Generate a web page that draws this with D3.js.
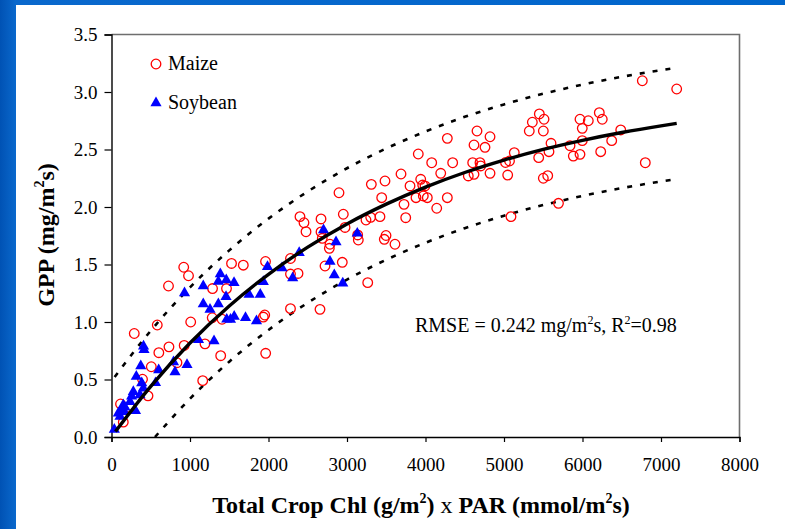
<!DOCTYPE html>
<html>
<head>
<meta charset="utf-8">
<script src="https://cdn.jsdelivr.net/npm/d3@7"></script>
<style>
  html, body { margin: 0; padding: 0; background: #0066cc; }
  svg { display: block; }
  text { font-family: "Liberation Serif", "Times New Roman", serif; fill: #000; }
</style>
</head>
<body>
<svg id="chart" width="785" height="529"></svg>
<script>
// Maize observations: crop Chl x PAR vs GPP
const maizeX = [6762,7200,6214,5968,6074,6252,5997,6487,5599,5841,5997,6372,5573,5883,5968,6232,6800,5557,5694,
  2898,2953,2975,3242,3302,3420,3310,3484,3442,3688,3803,3726,3748,3908,3939,3964,3994,3879,3972,4023,4079,4194,4278,4346,
  4143,4278,4545,4618,4601,4694,4703,4618,4656,4758,4822,4822,5019,5070,5047,5131,5089,5322,5361,5450,5510,5501,5442,5501,
  2669,2401,2452,2478,2669,2685,3136,3144,2783,2775,3497,3475,3611,2940,2720,2376,3264,2656,
  2280,2280,1962,1529,1679,920,981,726,1287,1465,1283,1408,1952,1934,2280,1009,583,290,603,732,926,1191,1391,1964,834,507,
  395,1162,465,115,231,150];
const maizeY = [3.098,3.026,2.820,2.763,2.750,2.763,2.684,2.670,2.554,2.533,2.577,2.577,2.481,2.443,2.458,2.481,2.385,2.272,2.032,
  2.124,1.937,1.822,1.887,1.910,1.916,2.197,2.226,2.081,2.287,2.183,2.023,1.907,2.461,2.241,2.191,2.183,2.081,2.096,2.081,2.385,2.293,2.597,2.385,
  1.989,2.081,2.270,2.284,2.385,2.385,2.357,2.539,2.661,2.519,2.611,2.293,2.387,2.400,2.278,2.472,1.916,2.661,2.737,2.809,2.763,2.661,2.429,2.250,
  1.896,1.916,1.863,1.785,1.783,1.728,1.757,1.713,1.676,1.641,1.752,1.719,1.676,1.519,1.487,1.422,1.342,1.110,
  1.552,1.417,1.526,1.509,1.494,1.476,1.402,1.313,1.291,1.291,1.037,1.024,1.061,1.043,1.116,1.000,0.974,0.900,0.733,0.784,0.796,0.810,0.707,0.728,0.646,0.611,
  0.502,0.490,0.358,0.287,0.258,0.129];

// Soybean observations
const soyX = [2701,2860,3131,2391,2783,2838,2946,2172,1987,2308,1934,1386,1361,1462,1561,1169,930,1459,1752,1895,1169,1255,1361,
  1468,1516,1563,1707,1847,1108,1306,408,414,373,601,790,809,962,316,385,561,405,278,257,363,236,150,172,121,163,306,87,108,36];
const soyY = [1.800,1.696,1.771,1.603,1.526,1.409,1.337,1.470,1.481,1.383,1.350,1.417,1.352,1.365,1.342,1.313,1.252,1.220,1.239,1.239,1.157,1.109,1.157,
  1.023,1.022,1.048,1.037,1.009,0.846,0.835,0.789,0.759,0.617,0.583,0.652,0.565,0.629,0.526,0.470,0.471,0.423,0.394,0.354,0.365,0.307,0.278,0.258,0.235,0.220,0.228,0.206,0.177,0.065];

// Fitted curve and its +/- 2 RMSE envelope
const fitX   = [50,500,1000,1500,2000,2500,3000,3500,4000,4500,5000,5500,6000,6500,7000,7200];
const fitY   = [0.047,0.440,0.817,1.139,1.415,1.651,1.853,2.025,2.173,2.300,2.408,2.501,2.580,2.648,2.706,2.727];
const upperX = [40,500,1000,1500,2000,2500,3000,3500,4000,4500,5000,5500,6000,6500,7000,7170];
const upperY = [0.522,0.924,1.301,1.623,1.899,2.135,2.337,2.509,2.657,2.784,2.892,2.985,3.064,3.132,3.190,3.208];
const lowerX = [554,1000,1500,2000,2500,3000,3500,4000,4500,5000,5500,6000,6500,7000,7170];
const lowerY = [0.000,0.333,0.655,0.931,1.167,1.369,1.541,1.689,1.816,1.924,2.017,2.096,2.164,2.222,2.240];

const xTicks = [0,1000,2000,3000,4000,5000,6000,7000,8000];
const yTicks = [0,0.5,1.0,1.5,2.0,2.5,3.0,3.5];
const seriesNames = ["Maize", "Soybean"];

const svg = d3.select("#chart");

// slide background
const defs = svg.append("defs");
const grad = defs.append("linearGradient").attr("id", "slideBlue")
  .attr("x1", "0").attr("y1", "0").attr("x2", "1").attr("y2", "0");
grad.append("stop").attr("offset", "0").attr("stop-color", "#0052b4");
grad.append("stop").attr("offset", "0.02").attr("stop-color", "#0a68cc");
grad.append("stop").attr("offset", "1").attr("stop-color", "#0066cc");
svg.append("rect").attr("width", 785).attr("height", 529).attr("fill", "url(#slideBlue)");
svg.append("rect").attr("x", 16).attr("y", 5).attr("width", 769).attr("height", 524).attr("fill", "#fff");

const x = d3.scaleLinear().domain([0, 8000]).range([111.5, 739.5]);
const y = d3.scaleLinear().domain([0, 3.5]).range([437, 34.5]);

// plot frame (top and right)
svg.append("path")
  .attr("d", `M${x(0)},${y(3.5)}H${x(8000)}V${y(0)}`)
  .attr("fill", "none").attr("stroke", "#6e6e6e").attr("stroke-width", 1.6);

// axes
const yAxis = svg.append("g").attr("transform", `translate(${x(0)},0)`)
  .call(d3.axisLeft(y).tickValues(yTicks).tickFormat(d3.format(".1f")).tickSize(7).tickPadding(7));
const xAxis = svg.append("g").attr("transform", `translate(0,${y(0)})`)
  .call(d3.axisBottom(x).tickValues(xTicks).tickFormat(d3.format("d")).tickSize(5).tickPadding(16));
[yAxis, xAxis].forEach(g => {
  g.selectAll("path").attr("stroke", "#000").attr("stroke-width", 1.4);
  g.selectAll("line").attr("stroke", "#000").attr("stroke-width", 1.2);
  g.selectAll("text").style("font-family", "Liberation Serif, serif").style("font-size", "19px").attr("fill", "#000");
});

const line = d3.line().x(d => x(d[0])).y(d => y(d[1])).curve(d3.curveMonotoneX);

// envelope (dashed)
[[upperX, upperY], [lowerX, lowerY]].forEach(([xs, ys]) => {
  svg.append("path").datum(d3.zip(xs, ys))
    .attr("d", line).attr("fill", "none")
    .attr("stroke", "#000").attr("stroke-width", 2.6).attr("stroke-dasharray", "5,8");
});

// maize points
svg.append("g").selectAll("circle").data(d3.zip(maizeX, maizeY)).join("circle")
  .attr("cx", d => x(d[0])).attr("cy", d => y(d[1])).attr("r", 4.8)
  .attr("fill", "none").attr("stroke", "#ff0000").attr("stroke-width", 1.3);

// soybean points
const tri = d3.symbol().type(d3.symbolTriangle).size(54);
svg.append("g").selectAll("path").data(d3.zip(soyX, soyY)).join("path")
  .attr("transform", d => `translate(${x(d[0])},${y(d[1])})`)
  .attr("d", tri).attr("fill", "#0000ff");

// fitted curve
svg.append("path").datum(d3.zip(fitX, fitY))
  .attr("d", line).attr("fill", "none").attr("stroke", "#000").attr("stroke-width", 3.4);

// legend
svg.append("circle").attr("cx", 156).attr("cy", 64).attr("r", 4.8)
  .attr("fill", "none").attr("stroke", "#ff0000").attr("stroke-width", 1.3);
svg.append("text").attr("x", 168).attr("y", 70).style("font-size", "20px").text(seriesNames[0]);
svg.append("path").attr("transform", "translate(156,103)").attr("d", tri).attr("fill", "#0000ff");
svg.append("text").attr("x", 168).attr("y", 109).style("font-size", "20px").text(seriesNames[1]);

// statistics note
const note = svg.append("text").attr("x", 415).attr("y", 332).style("font-size", "20px");
note.append("tspan").text("RMSE = 0.242 mg/m");
note.append("tspan").attr("dy", -8).style("font-size", "12px").text("2");
note.append("tspan").attr("dy", 8).text("s, R");
note.append("tspan").attr("dy", -8).style("font-size", "12px").text("2");
note.append("tspan").attr("dy", 8).text("=0.98");

// axis titles
const xt = svg.append("text").attr("x", 421).attr("y", 513).attr("text-anchor", "middle")
  .style("font-size", "24px").style("font-weight", "bold");
xt.append("tspan").text("Total Crop Chl (g/m");
xt.append("tspan").attr("dy", -10).style("font-size", "14px").text("2");
xt.append("tspan").attr("dy", 10).text(") ");
xt.append("tspan").style("font-weight", "normal").text("x");
xt.append("tspan").text(" PAR (mmol/m");
xt.append("tspan").attr("dy", -10).style("font-size", "14px").text("2");
xt.append("tspan").attr("dy", 10).text("s)");

const yt = svg.append("text").attr("transform", "translate(54,235) rotate(-90)").attr("text-anchor", "middle")
  .style("font-size", "24px").style("font-weight", "bold");
yt.append("tspan").text("GPP (mg/m");
yt.append("tspan").attr("dy", -10).style("font-size", "14px").text("2");
yt.append("tspan").attr("dy", 10).text("s)");
</script>
</body>
</html>
